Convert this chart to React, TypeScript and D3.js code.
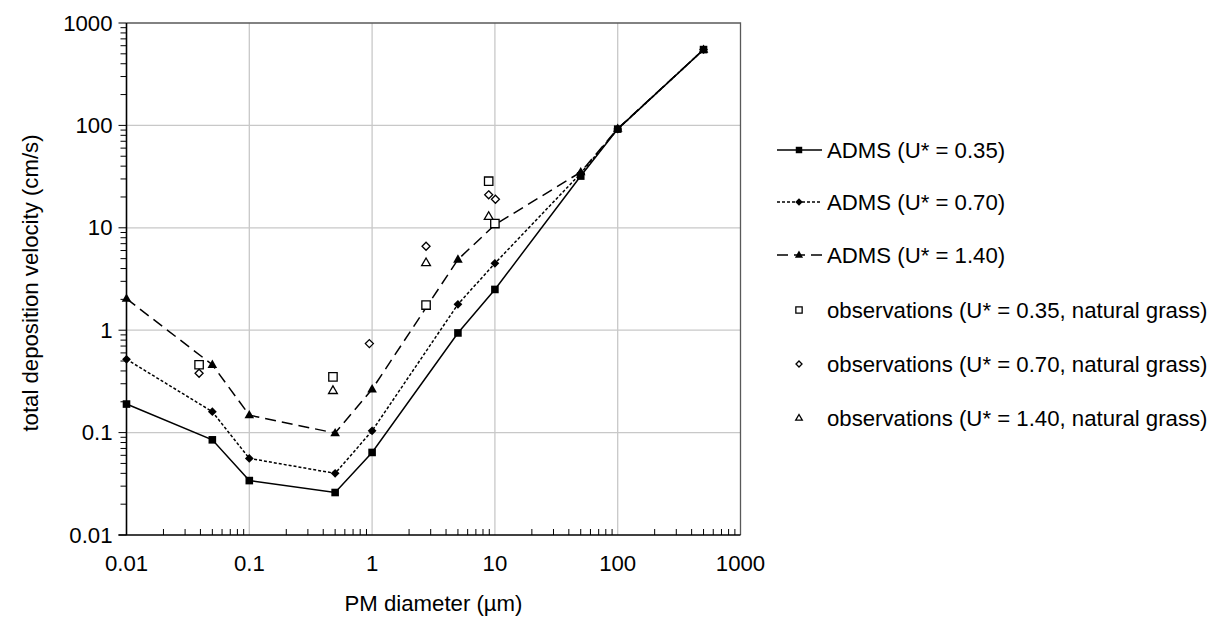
import * as d3 from 'd3';

// PM diameter (µm) where ADMS was evaluated
const admsDiameters = [0.01, 0.05, 0.1, 0.5, 1, 5, 10, 50, 100, 500];
const admsU035 = [0.19, 0.085, 0.034, 0.026, 0.064, 0.94, 2.5, 32, 92, 550];
const admsU070 = [0.52, 0.16, 0.056, 0.040, 0.104, 1.79, 4.5, 34, 92, 550];
const admsU140 = [2.03, 0.46, 0.148, 0.099, 0.265, 4.9, 10.7, 35, 93, 550];

// observations over natural grass
const obsU035X = [0.039, 0.48, 2.75, 8.9, 10];
const obsU035Y = [0.46, 0.35, 1.76, 28.5, 11];
const obsU070X = [0.039, 0.95, 2.75, 8.9, 10.1];
const obsU070Y = [0.38, 0.74, 6.6, 21, 19];
const obsU140X = [0.48, 2.75, 8.9];
const obsU140Y = [0.257, 4.56, 12.9];

const decadeTicks = [0.01, 0.1, 1, 10, 100, 1000];
const tickLabels = ['0.01', '0.1', '1', '10', '100', '1000'];

const xTitle = 'PM diameter (\u00b5m)';
const yTitle = 'total deposition velocity (cm/s)';

const FONT = '"Liberation Sans", Arial, sans-serif';
const FS = 22.2;
const W = 1215;
const H = 625;
const plot = { left: 126.5, right: 740.5, top: 23, bottom: 535 };

type Marker = 'square' | 'diamond' | 'triangle';

// r = half-width of the marker
const markerPath = (type: Marker, r: number) => {
  if (type === 'square') return `M${-r},${-r}H${r}V${r}H${-r}Z`;
  if (type === 'diamond') return `M0,${-r}L${r},0L0,${r}L${-r},0Z`;
  const h = r * 1.732;
  return `M0,${-h * 0.62}L${r},${h * 0.38}H${-r}Z`;
};

const admsSeries = [
  { label: 'ADMS (U* = 0.35)', values: admsU035, marker: 'square' as Marker, dash: null, r: 3.8 },
  { label: 'ADMS (U* = 0.70)', values: admsU070, marker: 'diamond' as Marker, dash: '3 2', r: 4.4 },
  { label: 'ADMS (U* = 1.40)', values: admsU140, marker: 'triangle' as Marker, dash: '11 6', r: 4.8 }
];

const obsSeries = [
  { label: 'observations (U* = 0.35, natural grass)', xs: obsU035X, ys: obsU035Y, marker: 'square' as Marker, r: 4.2 },
  { label: 'observations (U* = 0.70, natural grass)', xs: obsU070X, ys: obsU070Y, marker: 'diamond' as Marker, r: 4 },
  { label: 'observations (U* = 1.40, natural grass)', xs: obsU140X, ys: obsU140Y, marker: 'triangle' as Marker, r: 4.4 }
];

export default function App() {
  const x = d3.scaleLog().domain([0.01, 1000]).range([plot.left, plot.right]);
  const y = d3.scaleLog().domain([0.01, 1000]).range([plot.bottom, plot.top]);

  // minor ticks 2..9 inside every decade
  const minor: number[] = [];
  decadeTicks.slice(0, -1).forEach(d => {
    for (let k = 2; k <= 9; k++) minor.push(d * k);
  });

  const line = d3
    .line<number>()
    .x((_, i) => x(admsDiameters[i]))
    .y(d => y(d));

  const legendX = 777;
  const legendRows = [150, 202, 255, 310, 364, 418];

  return (
    <svg width={W} height={H} style={{ position: 'absolute', left: 0, top: 0, background: '#fff' }} fontFamily={FONT}>
      {/* gridlines */}
      <g stroke="#c8c8c8" strokeWidth={1.3}>
        {decadeTicks.slice(1, -1).map(t => (
          <line key={'gx' + t} x1={x(t)} x2={x(t)} y1={plot.top} y2={plot.bottom} />
        ))}
        {decadeTicks.slice(1, -1).map(t => (
          <line key={'gy' + t} x1={plot.left} x2={plot.right} y1={y(t)} y2={y(t)} />
        ))}
      </g>

      {/* frame top/right */}
      <path d={`M${plot.left},${plot.top}H${plot.right}V${plot.bottom}`} fill="none" stroke="#595959" strokeWidth={1.3} />

      {/* minor ticks */}
      <g stroke="#000" strokeWidth={1}>
        {minor.map(t => (
          <line key={'mx' + t} x1={x(t)} x2={x(t)} y1={plot.bottom} y2={plot.bottom - 6} />
        ))}
        {minor.map(t => (
          <line key={'my' + t} x1={plot.left} x2={plot.left - 6} y1={y(t)} y2={y(t)} />
        ))}
        {decadeTicks.map(t => (
          <line key={'My' + t} x1={plot.left} x2={plot.left - 8} y1={y(t)} y2={y(t)} />
        ))}
      </g>

      {/* axes */}
      <g stroke="#000" strokeWidth={1.6}>
        <line x1={plot.left} x2={plot.left} y1={plot.top} y2={plot.bottom} />
        <line x1={plot.left - 8} x2={plot.right} y1={plot.bottom} y2={plot.bottom} />
      </g>

      {/* tick labels */}
      <g fontSize={FS} fill="#000">
        {decadeTicks.map((t, i) => (
          <text key={'tx' + t} x={x(t)} y={plot.bottom + 36} textAnchor="middle">
            {tickLabels[i]}
          </text>
        ))}
        {decadeTicks.map((t, i) => (
          <text key={'ty' + t} x={plot.left - 14} y={y(t) + 7.5} textAnchor="end">
            {tickLabels[i]}
          </text>
        ))}
      </g>

      <text x={(plot.left + plot.right) / 2} y={611} fontSize={FS} textAnchor="middle">
        {xTitle}
      </text>
      <text transform={`translate(38,${(plot.top + plot.bottom) / 2 + 4}) rotate(-90)`} fontSize={FS} textAnchor="middle">
        {yTitle}
      </text>

      {/* ADMS lines */}
      {admsSeries.map(s => (
        <g key={s.label}>
          <path d={line(s.values)!} fill="none" stroke="#000" strokeWidth={1.5} strokeDasharray={s.dash ?? undefined} />
          {s.values.map((v, i) => (
            <path key={i} d={markerPath(s.marker, s.r)} transform={`translate(${x(admsDiameters[i])},${y(v)})`} fill="#000" />
          ))}
        </g>
      ))}

      {/* observations */}
      {obsSeries.map(s => (
        <g key={s.label}>
          {s.xs.map((xv, i) => (
            <path
              key={i}
              d={markerPath(s.marker, s.r)}
              transform={`translate(${x(xv)},${y(s.ys[i])})`}
              fill="#fff"
              stroke="#000"
              strokeWidth={1.3}
            />
          ))}
        </g>
      ))}

      {/* legend */}
      <g fontSize={FS}>
        {admsSeries.map((s, i) => (
          <g key={s.label} transform={`translate(${legendX},${legendRows[i]})`}>
            <line x1={0} x2={45} y1={0} y2={0} stroke="#000" strokeWidth={1.5} strokeDasharray={s.dash ?? undefined} />
            <path d={markerPath(s.marker, s.r * 0.85)} transform="translate(22,0)" fill="#000" />
            <text x={50} y={7.5}>
              {s.label}
            </text>
          </g>
        ))}
        {obsSeries.map((s, i) => (
          <g key={s.label} transform={`translate(${legendX},${legendRows[i + 3]})`}>
            <path d={markerPath(s.marker, s.r * 0.75)} transform="translate(22,0)" fill="#fff" stroke="#000" strokeWidth={1.3} />
            <text x={50} y={7.5}>
              {s.label}
            </text>
          </g>
        ))}
      </g>
    </svg>
  );
}
